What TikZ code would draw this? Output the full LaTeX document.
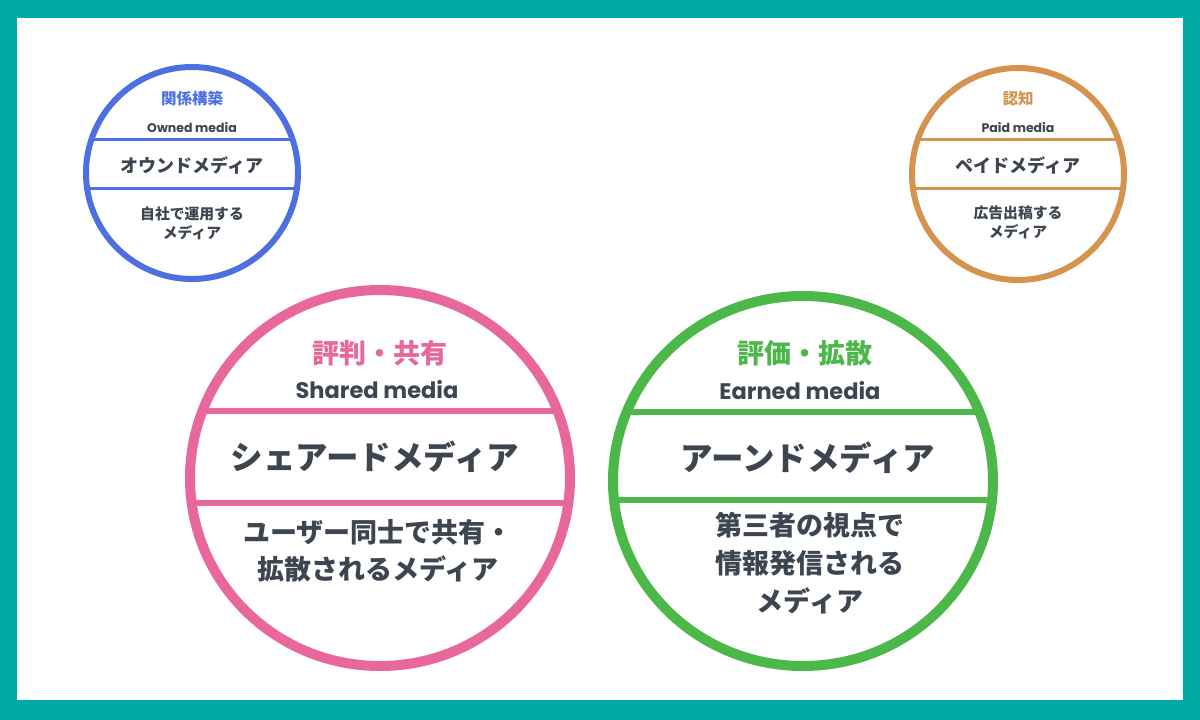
\documentclass[tikz,border=0pt]{standalone}
\usepackage{fontspec}
\newfontfamily\jp{Noto Sans CJK JP}
\newfontfamily\pop{Poppins}
\definecolor{frame}{HTML}{00AAA6}
\definecolor{ink}{HTML}{3C4550}
\definecolor{cblue}{HTML}{4D6FE2}
\definecolor{corange}{HTML}{D4944F}
\definecolor{cpink}{HTML}{E8689C}
\definecolor{cgreen}{HTML}{4DB84A}
\newcommand\fs[1]{\fontsize{#1}{#1}\selectfont}
\tikzset{
  lbl/.style={inner sep=0pt, align=center, text=ink},
  jpb/.style={lbl, font=\jp\bfseries\fs{#1}},
  latin/.style={lbl, font=\pop\bfseries\fs{#1}},
}
\begin{document}
\begin{tikzpicture}[x=1pt,y=-1pt]
\useasboundingbox (0,0) rectangle (1200,720);
\fill[frame] (0,0) rectangle (1200,720);
\fill[white] (17,18) rectangle (1183,700);

% ---------- small circles ----------
% blue
\begin{scope}
\clip (192,173) circle [radius=106];
\draw[cblue, line width=3pt] (80,139) -- (305,139) (80,188) -- (305,188);
\end{scope}
\draw[cblue, line width=6pt] (192,173) circle [radius=106];
\node[jpb=15.5, text=cblue] (bt) at (192,99) {関係構築};
\node[latin=12.5] (bl) at (192,128) {Owned media};
\node[jpb=18] (bm) at (192,165) {オウンドメディア};
\node[lbl, font=\jp\bfseries\fontsize{14.8}{19}\selectfont] (bd) at (192,223) {自社で運用する\\メディア};

% orange
\begin{scope}
\clip (1018,174) circle [radius=106];
\draw[corange, line width=3pt] (900,139) -- (1135,139) (900,188) -- (1135,188);
\end{scope}
\draw[corange, line width=6pt] (1018,174) circle [radius=106];
\node[jpb=15.5, text=corange] (ot) at (1018,99) {認知};
\node[latin=12.5] (ol) at (1018,128) {Paid media};
\node[jpb=18] (om) at (1018,165) {ペイドメディア};
\node[lbl, font=\jp\bfseries\fontsize{14.8}{19}\selectfont] (od) at (1018,222) {広告出稿する\\メディア};

% ---------- large circles ----------
% pink
\begin{scope}
\clip (380,478) ellipse [x radius=190, y radius=188];
\draw[cpink, line width=6pt] (180,411) -- (580,411) (180,503) -- (580,503);
\end{scope}
\draw[cpink, line width=10pt] (380,478) ellipse [x radius=190, y radius=188];
\node[jpb=27, text=cpink] (pt) at (380,353) {評判・共有};
\node[latin=22.5] (pl) at (377,390) {Shared media};
\node[jpb=32.5] (pm) at (375,457) {シェアードメディア};
\node[lbl, font=\jp\bfseries\fontsize{27}{37}\selectfont] (pd) at (378,551) {ユーザー同士で共有・\\拡散されるメディア};

% green
\begin{scope}
\clip (803,481) ellipse [x radius=190, y radius=185];
\draw[cgreen, line width=6pt] (600,412) -- (1000,412) (600,500) -- (1000,500);
\end{scope}
\draw[cgreen, line width=10pt] (803,481) ellipse [x radius=190, y radius=185];
\node[jpb=27, text=cgreen] (gt) at (805,353) {評価・拡散};
\node[latin=22.5] (gl) at (800,391) {Earned media};
\node[jpb=32.5] (gm) at (808,458) {アーンドメディア};
\node[lbl, font=\jp\bfseries\fontsize{27}{38}\selectfont] (gd) at (810,563) {第三者の視点で\\情報発信される\\メディア};
\end{tikzpicture}
\end{document}
